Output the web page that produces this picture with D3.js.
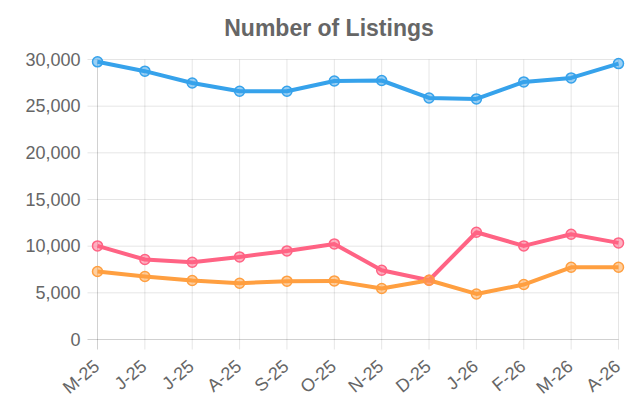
<!DOCTYPE html>
<html><head><meta charset="utf-8">
<script src="https://cdn.jsdelivr.net/npm/d3@7"></script>
<style>body{margin:0;background:#fff}svg{display:block}</style>
</head><body>
<svg id="c" width="633" height="401"></svg>
<script>
const categories = ["M-25","J-25","J-25","A-25","S-25","O-25","N-25","D-25","J-26","F-26","M-26","A-26"];
const blueValues = [29750,28750,27480,26600,26600,27700,27750,25880,25780,27600,28030,29560];
const redValues = [10030,8570,8280,8850,9490,10240,7420,6350,11490,10030,11280,10350];
const orangeValues = [7280,6750,6320,6030,6250,6280,5460,6350,4880,5890,7740,7740];
const yTicks = [0,5000,10000,15000,20000,25000,30000];
const title = "Number of Listings";

const series = [
  {values: blueValues, color: "rgb(54,162,235)"},
  {values: redValues, color: "rgb(255,99,132)"},
  {values: orangeValues, color: "rgb(255,159,64)"}
];

const svg = d3.select("#c");
const L = 97.5, R = 618.5, T = 59.5, B = 339.5;
const x = d3.scalePoint().domain(d3.range(categories.length)).range([L, R]);
const y = d3.scaleLinear().domain([0, 30000]).range([B, T]);
const font = "'Liberation Sans', Arial, Helvetica, sans-serif";

// grid horizontal
svg.append("g").selectAll("line").data(yTicks).join("line")
  .attr("x1", L - 10).attr("x2", R).attr("y1", d => y(d)).attr("y2", d => y(d))
  .attr("stroke", d => d === 0 ? "rgba(0,0,0,0.18)" : "rgba(0,0,0,0.1)").attr("stroke-width", 1);
// grid vertical
svg.append("g").selectAll("line").data(d3.range(categories.length)).join("line")
  .attr("x1", d => x(d)).attr("x2", d => x(d)).attr("y1", T).attr("y2", B + 10)
  .attr("stroke", d => d === 0 ? "rgba(0,0,0,0.18)" : "rgba(0,0,0,0.1)").attr("stroke-width", 1);

// y labels
svg.append("g").selectAll("text").data(yTicks).join("text")
  .attr("x", L - 17).attr("y", d => y(d)).attr("dy", "0.35em")
  .attr("text-anchor", "end").attr("fill", "#666")
  .style("font-family", font).style("font-size", "18px")
  .text(d => d3.format(",")(d));

// x labels
svg.append("g").selectAll("text").data(categories).join("text")
  .attr("transform", (d, i) => `translate(${x(i) - 1},${B + 24}) rotate(-40)`)
  .attr("text-anchor", "end").attr("dy", "0.35em").attr("fill", "#666")
  .style("font-family", font).style("font-size", "18px")
  .text(d => d);

// lines
const line = d3.line().x((d, i) => x(i)).y(d => y(d));
series.forEach(s => {
  svg.append("path").datum(s.values).attr("d", line)
    .attr("fill", "none").attr("stroke", s.color).attr("stroke-width", 4)
    .attr("stroke-linejoin", "round");
});
series.forEach(s => {
  svg.append("g").selectAll("circle").data(s.values).join("circle")
    .attr("cx", (d, i) => x(i)).attr("cy", d => y(d)).attr("r", 5)
    .attr("fill", s.color.replace("rgb", "rgba").replace(")", ",0.5)"))
    .attr("stroke", s.color).attr("stroke-width", 1.5);
});

// title
svg.append("text").attr("x", 329).attr("y", 36).attr("text-anchor", "middle")
  .attr("fill", "#666").style("font-family", font).style("font-size", "23px").style("font-weight", "bold")
  .text(title);
</script>
</body></html>
